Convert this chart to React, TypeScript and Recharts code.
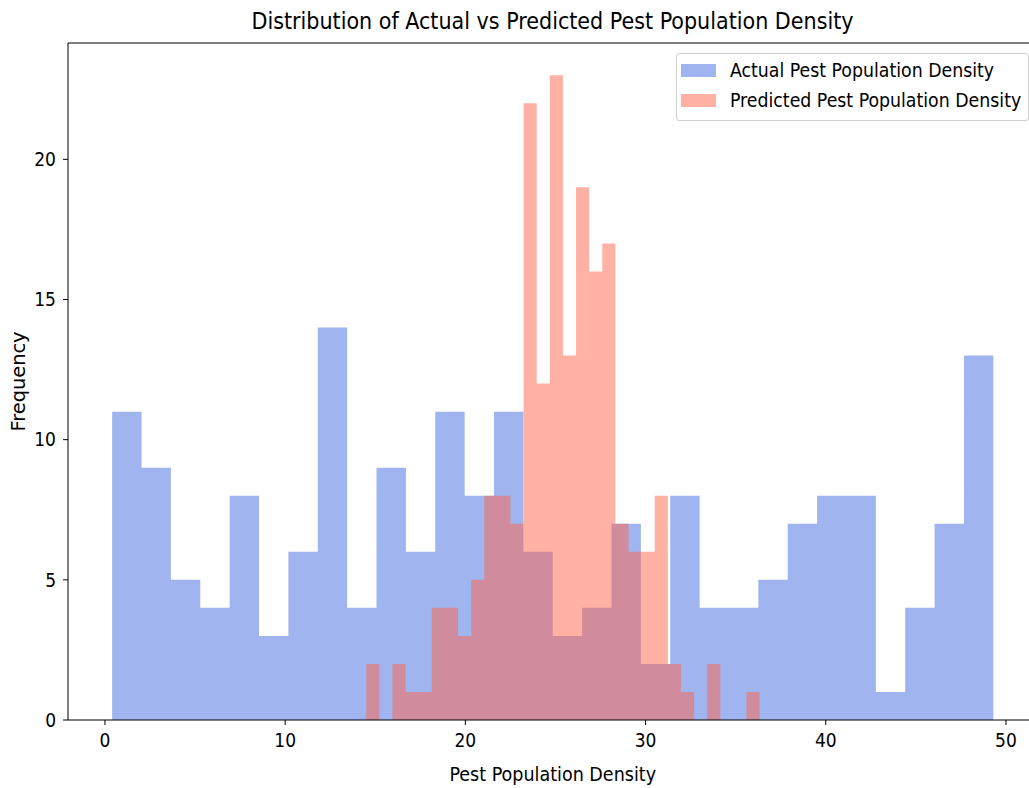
import { Area, ComposedChart, ReferenceLine, XAxis, YAxis } from "recharts";

// histogram counts, 30 bins each
const actualCounts = [11, 9, 5, 4, 8, 3, 6, 14, 4, 9, 6, 11, 8, 11, 6, 3, 4, 7, 2, 8, 4, 4, 5, 7, 8, 8, 1, 4, 7, 13];
const actualRange = [0.4, 49.3];
const predictedCounts = [2, 0, 2, 1, 1, 4, 4, 3, 5, 8, 8, 7, 22, 12, 23, 13, 19, 16, 17, 7, 6, 6, 8, 2, 1, 0, 2, 0, 0, 1];
const predictedRange = [14.5, 36.33];

const xTicks = [0, 10, 20, 30, 40, 50];
const yTicks = [0, 5, 10, 15, 20];
const xDomain = [-2.05, 51.75];
const yMax = 24.15;

const BLUE = "#4169E1";
const RED = "#FF6347";
const FONT = "'DejaVu Sans Condensed', 'DejaVu Sans', sans-serif";
const FONT_PLAIN = "'DejaVu Sans', sans-serif";

function binEdges(range: number[], n: number): number[] {
  const w = (range[1] - range[0]) / n;
  return Array.from({ length: n + 1 }, (_, i) => range[0] + i * w);
}

function countAt(x: number, counts: number[], range: number[]): number | null {
  const [lo, hi] = range;
  if (x < lo - 1e-9 || x > hi + 1e-9) return null;
  const w = (hi - lo) / counts.length;
  const idx = Math.min(counts.length - 1, Math.floor((x - lo) / w + 1e-9));
  return counts[idx];
}

// step table: one row per bin edge of either histogram
const xs = [...binEdges(actualRange, actualCounts.length), ...binEdges(predictedRange, predictedCounts.length)]
  .sort((a, b) => a - b)
  .filter((x, i, arr) => i === 0 || x - arr[i - 1] > 1e-6);
const rows = xs.map((x) => ({
  x,
  actual: countAt(x, actualCounts, actualRange),
  predicted: countAt(x, predictedCounts, predictedRange),
}));

const legendItems = [
  { label: "Actual Pest Population Density", color: BLUE },
  { label: "Predicted Pest Population Density", color: RED },
];

function HistLegend() {
  return (
    <div
      style={{
        position: "absolute",
        left: 676,
        top: 53,
        background: "rgba(255,255,255,0.8)",
        border: "1px solid #d0d0d0",
        borderRadius: 3,
        padding: "1px 7px 5px 4px",
        fontFamily: FONT,
        fontSize: 19.3,
        color: "#000",
        whiteSpace: "nowrap",
      }}
    >
      {legendItems.map((it) => (
        <div key={it.label} style={{ display: "flex", alignItems: "center", height: 30 }}>
          <span
            style={{ width: 35, height: 13, background: it.color, opacity: 0.5, marginRight: 14, display: "inline-block" }}
          />
          <span>{it.label}</span>
        </div>
      ))}
    </div>
  );
}

export default function App() {
  return (
    <div
      style={{
        position: "fixed",
        left: 0,
        top: 0,
        width: 1029,
        height: 788,
        overflow: "hidden",
        background: "#fff",
      }}
    >
      <div
        style={{
          position: "absolute",
          left: 0,
          width: 1105,
          top: 9.5,
          textAlign: "center",
          fontFamily: FONT,
          fontSize: 23,
          lineHeight: 1,
          color: "#000",
          whiteSpace: "nowrap",
        }}
      >
        Distribution of Actual vs Predicted Pest Population Density
      </div>
      <ComposedChart
        width={1040}
        height={788}
        data={rows}
        margin={{ top: 43, right: 2.5, bottom: 0, left: 0 }}
        style={{ position: "absolute", left: 0, top: 0 }}
      >
        <XAxis
          type="number"
          dataKey="x"
          domain={xDomain}
          ticks={xTicks}
          allowDataOverflow
          height={68}
          stroke="#000"
          tickSize={5}
          tickMargin={9}
          tick={{ fill: "#000", fontSize: 19, fontFamily: FONT }}
          label={{
            value: "Pest Population Density",
            position: "insideBottom",
            offset: 7,
            fill: "#000",
            fontSize: 19.5,
            fontFamily: FONT,
          }}
        />
        <YAxis
          type="number"
          domain={[0, yMax]}
          ticks={yTicks}
          allowDataOverflow
          width={68}
          stroke="#000"
          tickSize={5}
          tickMargin={7}
          tick={{ fill: "#000", fontSize: 19, fontFamily: FONT }}
          label={{
            value: "Frequency",
            content: ({ viewBox }: any) => (
              <text
                x={18}
                y={viewBox.y + viewBox.height / 2}
                transform={`rotate(-90, 18, ${viewBox.y + viewBox.height / 2})`}
                textAnchor="middle"
                dominantBaseline="central"
                fill="#000"
                fontSize={19.4}
                fontFamily={FONT_PLAIN}
              >
                Frequency
              </text>
            ),
          }}
        />
        <ReferenceLine y={yMax} stroke="#000" ifOverflow="extendDomain" />
        <Area
          type="stepAfter"
          dataKey="actual"
          name="Actual Pest Population Density"
          stroke="none"
          fill={BLUE}
          fillOpacity={0.5}
          isAnimationActive={false}
          dot={false}
          activeDot={false}
        />
        <Area
          type="stepAfter"
          dataKey="predicted"
          name="Predicted Pest Population Density"
          stroke="none"
          fill={RED}
          fillOpacity={0.5}
          isAnimationActive={false}
          dot={false}
          activeDot={false}
        />
      </ComposedChart>
      <HistLegend />
    </div>
  );
}
